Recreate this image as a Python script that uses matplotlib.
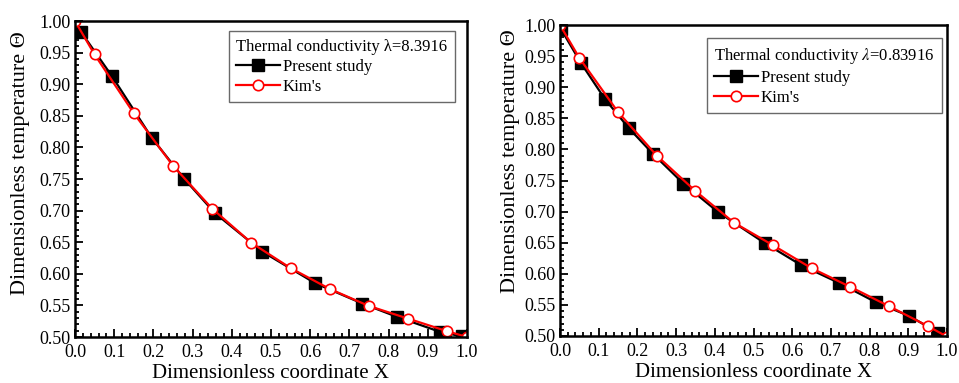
import matplotlib
matplotlib.use("Agg")
import matplotlib.pyplot as plt
from matplotlib.ticker import MultipleLocator, FormatStrFormatter

plt.rcParams['font.family'] = ['Liberation Serif', 'DejaVu Serif']
plt.rcParams['mathtext.fontset'] = 'stix'

# Left panel: lambda = 8.3916
left_present_x = [0.015, 0.094, 0.196, 0.279, 0.357, 0.478, 0.613, 0.733, 0.821, 0.932, 0.987]
left_present_y = [0.983, 0.913, 0.815, 0.750, 0.696, 0.635, 0.585, 0.553, 0.532, 0.508, 0.501]
left_kim_x = [0.0, 0.05, 0.15, 0.25, 0.35, 0.45, 0.55, 0.65, 0.75, 0.85, 0.95, 1.0]
left_kim_y = [1.0, 0.947, 0.854, 0.771, 0.703, 0.649, 0.609, 0.576, 0.549, 0.529, 0.509, 0.500]

# Right panel: lambda = 0.83916
right_present_x = [0.003, 0.054, 0.116, 0.178, 0.240, 0.319, 0.409, 0.530, 0.623, 0.722, 0.817, 0.903, 0.978]
right_present_y = [0.993, 0.939, 0.881, 0.834, 0.793, 0.745, 0.699, 0.649, 0.614, 0.585, 0.554, 0.532, 0.505]
right_kim_x = [0.0, 0.05, 0.15, 0.25, 0.35, 0.45, 0.55, 0.65, 0.75, 0.85, 0.95, 1.0]
right_kim_y = [1.0, 0.947, 0.860, 0.790, 0.733, 0.682, 0.646, 0.609, 0.579, 0.548, 0.516, 0.499]

titles = ["Thermal conductivity \u03bb=8.3916", "Thermal conductivity $\\lambda$=0.83916"]
xlabel = "Dimensionless coordinate X"
ylabel = "Dimensionless temperature \u0398"
xticks = [0.0, 0.1, 0.2, 0.3, 0.4, 0.5, 0.6, 0.7, 0.8, 0.9, 1.0]
yticks = [0.50, 0.55, 0.60, 0.65, 0.70, 0.75, 0.80, 0.85, 0.90, 0.95, 1.00]

fig = plt.figure(figsize=(9.59, 3.83), dpi=100)
W, H = 959, 383
boxes = [(75, 21, 467, 337), (560, 25, 947, 336)]
legend_anchor = [(0.969, 0.968), (0.987, 0.958)]
ylabel_pos = [(-0.115, 0.55), (-0.104, 0.563)]
data = [(left_present_x, left_present_y, left_kim_x, left_kim_y),
        (right_present_x, right_present_y, right_kim_x, right_kim_y)]

for (l, t, r, b), (px, py, kx, ky), title, anc, ylp in zip(boxes, data, titles, legend_anchor, ylabel_pos):
    ax = fig.add_axes([l / W, 1 - b / H, (r - l) / W, (b - t) / H])
    ax.plot(px, py, color='black', lw=1.6, marker='s', ms=8, mfc='black', mec='black',
            label='Present study')
    ax.plot(kx, ky, color='red', lw=1.6, marker='o', ms=7.5, mfc='white', mec='red',
            mew=1.2, label="Kim's")
    ax.set_xlim(0.0, 1.0)
    ax.set_ylim(0.5, 1.0)
    ax.set_xticks(xticks)
    ax.set_yticks(yticks)
    ax.xaxis.set_major_formatter(FormatStrFormatter('%.1f'))
    ax.yaxis.set_major_formatter(FormatStrFormatter('%.2f'))
    ax.xaxis.set_minor_locator(MultipleLocator(0.02))
    ax.yaxis.set_minor_locator(MultipleLocator(0.01))
    ax.tick_params(which='both', direction='in', top=False, right=False, labelsize=13, width=1.3)
    ax.tick_params(axis='x', pad=5)
    ax.tick_params(axis='y', pad=3)
    ax.tick_params(which='major', length=6)
    ax.tick_params(which='minor', length=3)
    for s in ax.spines.values():
        s.set_linewidth(1.8)
    ax.set_xlabel(xlabel, fontsize=15, labelpad=2)
    ax.set_ylabel(ylabel, fontsize=16)
    ax.yaxis.set_label_coords(*ylp)
    leg = ax.legend(title=title, loc='upper right', bbox_to_anchor=anc,
                    fontsize=12, title_fontsize=12, frameon=True, fancybox=False,
                    handlelength=2.6, handletextpad=0.2, borderpad=0.45, labelspacing=0.25,
                    borderaxespad=0.0)
    leg._legend_box.align = 'left'
    leg.get_frame().set_edgecolor('#444444')
    leg.get_frame().set_linewidth(1.0)

fig.savefig('out.png', dpi=100)
